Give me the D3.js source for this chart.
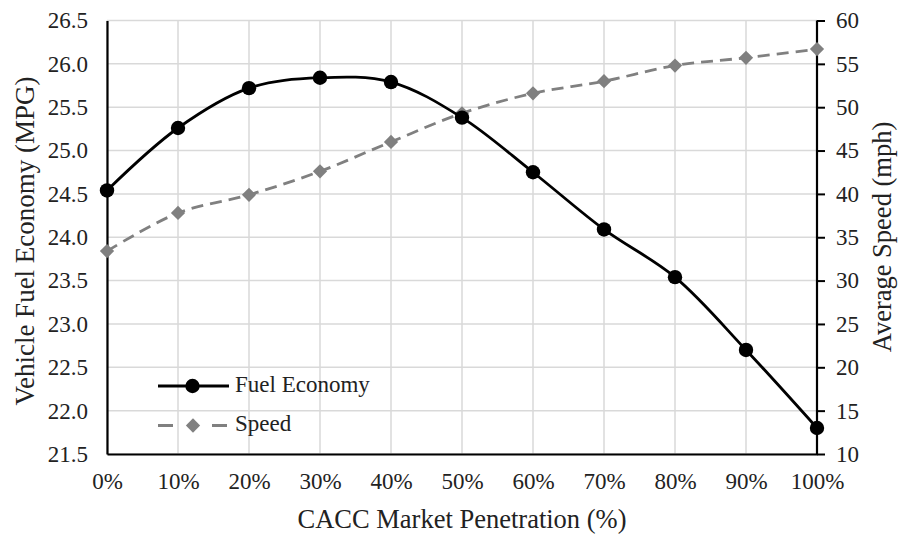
<!DOCTYPE html>
<html><head><meta charset="utf-8">
<script src="https://cdn.jsdelivr.net/npm/d3@7"></script>
<style>body{margin:0;background:#fff}svg{display:block}text{font-family:"Liberation Serif","Times New Roman",serif;fill:#222}</style>
</head><body>
<script>
const penetration = [0, 10, 20, 30, 40, 50, 60, 70, 80, 90, 100];
const fuelEconomy = [24.54, 25.26, 25.72, 25.84, 25.79, 25.38, 24.75, 24.09, 23.54, 22.70, 21.80];
const speed = [33.4, 37.8, 39.9, 42.6, 46.0, 49.3, 51.6, 53.0, 54.8, 55.7, 56.7];
const leftTicks = [21.5, 22.0, 22.5, 23.0, 23.5, 24.0, 24.5, 25.0, 25.5, 26.0, 26.5];
const rightTicks = [10, 15, 20, 25, 30, 35, 40, 45, 50, 55, 60];
const xTicks = [0, 10, 20, 30, 40, 50, 60, 70, 80, 90, 100];

const W = 899, H = 534;
const m = {left: 107, right: 82, top: 20.5, bottom: 80};
const svg = d3.select("body").append("svg").attr("width", W).attr("height", H);
const x = d3.scaleLinear().domain([0, 100]).range([m.left, W - m.right]);
const yL = d3.scaleLinear().domain([21.5, 26.5]).range([H - m.bottom, m.top]);
const yR = d3.scaleLinear().domain([10, 60]).range([H - m.bottom, m.top]);
const FONT = '"Liberation Serif","Times New Roman",serif';

// gridlines
const g = svg.append("g");
g.selectAll(".hg").data(leftTicks).join("line")
  .attr("x1", m.left).attr("x2", W - m.right)
  .attr("y1", d => yL(d)).attr("y2", d => yL(d))
  .attr("stroke", "#d9d9d9").attr("stroke-width", 1.5);
g.selectAll(".vg").data(xTicks).join("line")
  .attr("y1", m.top).attr("y2", H - m.bottom)
  .attr("x1", d => x(d)).attr("x2", d => x(d))
  .attr("stroke", "#d9d9d9").attr("stroke-width", 1.5);

// axes
const fs = "23px";
const ax = svg.append("g").attr("transform", `translate(0,${H - m.bottom})`)
  .call(d3.axisBottom(x).tickValues(xTicks).tickFormat(d => d + "%").tickSize(0).tickPadding(19));
const ayl = svg.append("g").attr("transform", `translate(${m.left},0)`)
  .call(d3.axisLeft(yL).tickValues(leftTicks).tickFormat(d3.format(".1f")).tickSize(0).tickPadding(19));
const ayr = svg.append("g").attr("transform", `translate(${W - m.right},0)`)
  .call(d3.axisRight(yR).tickValues(rightTicks).tickSize(8).tickPadding(11));
[ax, ayl, ayr].forEach(a => {
  a.attr("font-family", FONT).attr("font-size", fs);
  a.selectAll("text").attr("fill", "#222");
  a.select(".domain").attr("stroke", "#000").attr("stroke-width", 2.2);
  a.selectAll(".tick line").attr("stroke", "#000").attr("stroke-width", 2);
});
ayr.select(".domain").attr("d", `M0,${m.top}V${H - m.bottom}`);

// titles
svg.append("text").attr("x", 462).attr("y", 528).attr("text-anchor", "middle")
  .attr("font-family", FONT).attr("font-size", "26.5px").text("CACC Market Penetration (%)");
svg.append("text").attr("transform", `translate(34,241) rotate(-90)`)
  .attr("text-anchor", "middle").attr("font-family", FONT).attr("font-size", "27px").text("Vehicle Fuel Economy (MPG)");
svg.append("text").attr("transform", `translate(891,237) rotate(-90)`)
  .attr("text-anchor", "middle").attr("font-family", FONT).attr("font-size", "26.5px").text("Average Speed (mph)");

// speed series
const spPts = penetration.map((p, i) => [x(p), yR(speed[i])]);
svg.append("path").attr("d", d3.line().curve(d3.curveCatmullRom.alpha(0.5))(spPts))
  .attr("fill", "none").attr("stroke", "#808080").attr("stroke-width", 2.8).attr("stroke-dasharray", "12,7");
const diamond = d3.symbol().type(d3.symbolDiamond2).size(130);
svg.selectAll(".sp").data(spPts).join("path")
  .attr("transform", d => `translate(${d[0]},${d[1]})`).attr("d", diamond).attr("fill", "#808080");

// fuel series
const fePts = penetration.map((p, i) => [x(p), yL(fuelEconomy[i])]);
svg.append("path").attr("d", d3.line().curve(d3.curveCatmullRom.alpha(0.5))(fePts))
  .attr("fill", "none").attr("stroke", "#000").attr("stroke-width", 2.8);
svg.selectAll(".fe").data(fePts).join("circle")
  .attr("cx", d => d[0]).attr("cy", d => d[1]).attr("r", 7.2).attr("fill", "#000");

// legend
const lg = svg.append("g");
lg.append("line").attr("x1", 158).attr("x2", 229).attr("y1", 386).attr("y2", 386).attr("stroke", "#000").attr("stroke-width", 2.8);
lg.append("circle").attr("cx", 192.5).attr("cy", 386).attr("r", 7.2).attr("fill", "#000");
lg.append("text").attr("x", 235).attr("y", 392).attr("font-family", FONT).attr("font-size", "23px").text("Fuel Economy");
lg.append("line").attr("x1", 158).attr("x2", 228).attr("y1", 425.5).attr("y2", 425.5).attr("stroke", "#808080").attr("stroke-width", 2.8).attr("stroke-dasharray", "15,39");
lg.append("path").attr("transform", "translate(193,425.5)").attr("d", diamond).attr("fill", "#808080");
lg.append("text").attr("x", 235).attr("y", 431).attr("font-family", FONT).attr("font-size", "23px").text("Speed");
</script>
</body></html>
